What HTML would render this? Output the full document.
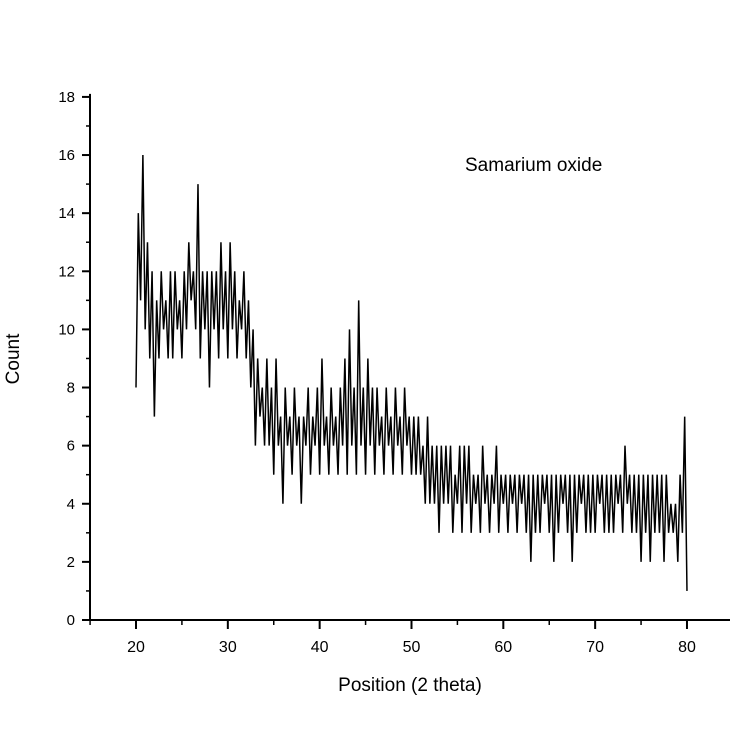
<!DOCTYPE html>
<html><head><meta charset="utf-8"><style>
body{margin:0;background:#fff;}
svg{display:block;font-family:"Liberation Sans",sans-serif;}
</style></head><body>
<svg id="chart" width="730" height="730">
<g id="axes"></g>
<path id="series" fill="none" stroke="#000" stroke-width="1.5" stroke-linejoin="miter"/>
<text x="465" y="171" font-size="19">Samarium oxide</text>
<text x="410" y="691" font-size="19" text-anchor="middle">Position (2 theta)</text>
<text transform="translate(19,359) rotate(-90)" font-size="19" text-anchor="middle">Count</text>
</svg>
<script>
const xStart = 20, xStep = 0.25;
const counts = [
8,14,11,16, 10,13,9,12, 7,11,9,12, 10,11,9,12, 9,12,10,11,
9,12,10,13, 11,12,10,15, 9,12,10,12, 8,12,10,12, 9,13,10,12,
9,13,10,12, 9,11,10,12, 9,11,8,10, 6,9,7,8, 6,9,6,8,
5,9,6,7, 4,8,6,7, 5,8,6,7, 4,7,6,8, 5,7,6,8,
5,9,6,7, 5,8,6,7, 5,8,6,9, 5,10,6,8, 5,11,6,8,
5,9,6,8, 5,8,6,7, 5,8,6,7, 5,8,6,7, 5,8,6,7,
5,7,5,7, 5,6,4,7, 4,6,4,6, 3,6,4,6, 4,6,3,5,
4,6,3,6, 4,6,3,5, 4,5,3,6, 4,5,3,5, 4,6,3,5,
4,5,3,5, 4,5,3,5, 4,5,3,5, 2,5,3,5, 3,5,4,5,
3,5,2,5, 3,5,4,5, 3,5,2,5, 3,5,4,5, 3,5,3,5,
3,5,4,5, 3,5,3,5, 3,5,4,5, 3,6,4,5, 3,5,3,5,
2,5,3,5, 2,5,3,5, 3,5,2,5, 3,4,3,4, 2,5,3,7,
1
];
const yTicks = [0,2,4,6,8,10,12,14,16,18];
const xTicks = [20,30,40,50,60,70,80];
const X = v => 136 + (v - 20) * 9.183;
const Y = v => 620 - v * 29.06;
const NS = 'http://www.w3.org/2000/svg';
const axes = document.getElementById('axes');
function mk(tag, attrs, txt){const e=document.createElementNS(NS,tag);for(const k in attrs)e.setAttribute(k,attrs[k]);if(txt!==undefined)e.textContent=txt;axes.appendChild(e);return e;}
let e;
e = mk('line',{x1:90,y1:Y(18)-3,x2:90,y2:621,stroke:'#000','stroke-width':2});


e = mk('line',{x1:89,y1:620,x2:730,y2:620,stroke:'#000','stroke-width':2});


for(let v=1; v<18; v+=2){
  e = mk('line',{x1:86,y1:Y(v),x2:90,y2:Y(v),stroke:'#000','stroke-width':1.5});
  
  
}
yTicks.forEach(v=>{
  e = mk('line',{x1:82,y1:Y(v),x2:90,y2:Y(v),stroke:'#000','stroke-width':2});
  
  
  e = mk('text',{x:75,y:Y(v)+5,'font-size':15,'text-anchor':'end'},String(v));
  
  
});
[15,25,35,45,55,65,75,85].forEach(v=>{
  e = mk('line',{x1:X(v),y1:620,x2:X(v),y2:625,stroke:'#000','stroke-width':1.5});
  
  
});
xTicks.forEach(v=>{
  e = mk('line',{x1:X(v),y1:620,x2:X(v),y2:629,stroke:'#000','stroke-width':2});
  
  
  e = mk('text',{x:X(v),y:652,'font-size':16,'text-anchor':'middle'},String(v));
  
  
});
let d='';
counts.forEach((c,i)=>{
  const x = X(xStart + i*xStep);
  d += (i?'L':'M') + x.toFixed(2) + ' ' + Y(c).toFixed(2) + ' ';
});
document.getElementById('series').setAttribute('d', d);
</script>
</body></html>
